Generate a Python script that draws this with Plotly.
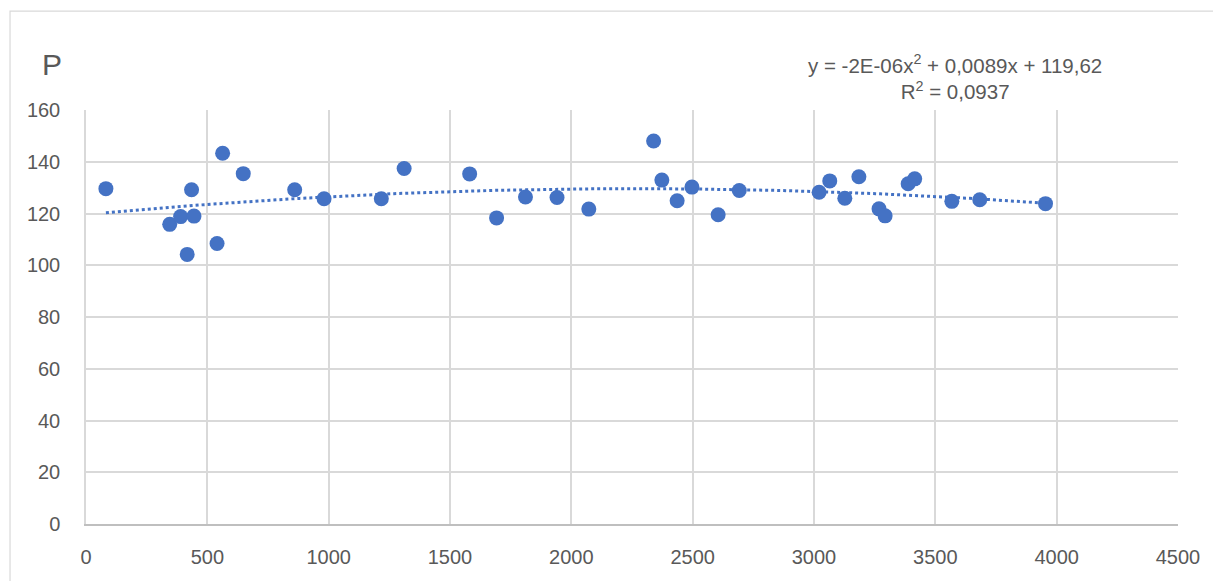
import numpy as np
import plotly.graph_objects as go

# Data
x_vals = [82, 345, 390, 417, 435, 445, 540, 563, 648, 860, 981, 1217, 1311, 1581,
          1692, 1811, 1941, 2072, 2339, 2373, 2436, 2497, 2605, 2692, 3021, 3065,
          3127, 3185, 3268, 3293, 3388, 3415, 3568, 3683, 3954]
y_vals = [129.6, 115.8, 118.8, 104.2, 129.2, 119.0, 108.4, 143.3, 135.4, 129.2, 125.7,
          125.7, 137.4, 135.3, 118.3, 126.4, 126.2, 121.7, 148.0, 132.9, 124.9, 130.2,
          119.5, 128.9, 128.2, 132.6, 125.9, 134.2, 121.8, 119.1, 131.5, 133.4, 124.7,
          125.3, 123.8]

x_ticks = [0, 500, 1000, 1500, 2000, 2500, 3000, 3500, 4000, 4500]
y_ticks = [0, 20, 40, 60, 80, 100, 120, 140, 160]

eq_text = "y = -2E-06x<sup>2</sup> + 0,0089x + 119,62<br>R<sup>2</sup> = 0,0937"
y_title = "P"

OFF = 8  # page body margin
W, H = 1221 - OFF, 581 - OFF
L, R, T, B = 86 - OFF, 1178.5 - OFF, 110 - OFF, 524.5 - OFF

blue = "#4472C4"
txt = "#595959"
grid = "#D9D9D9"
font = "Liberation Sans"

# polynomial (order 2) trendline from the data
coef = np.polyfit(x_vals, y_vals, 2)
tx = np.linspace(min(x_vals), max(x_vals), 200)
ty = np.polyval(coef, tx)

fig = go.Figure()
fig.add_trace(go.Scatter(x=tx, y=ty, mode="lines",
                         line=dict(color=blue, width=3, dash="dot"),
                         hoverinfo="skip", showlegend=False))
fig.add_trace(go.Scatter(x=x_vals, y=y_vals, mode="markers",
                         marker=dict(color=blue, size=15, line=dict(width=0)),
                         showlegend=False))

pw = R - L
ph = B - T

def px_to_paper_x(p):
    return (p - OFF - L) / pw

def px_to_paper_y(p):
    return (B - (p - OFF)) / ph

fig.update_layout(
    width=W, height=H,
    margin=dict(l=L, r=W - R, t=T, b=H - B, pad=0),
    paper_bgcolor="white", plot_bgcolor="white",
    font=dict(family=font, color=txt, size=20),
    xaxis=dict(range=[0, 4500], tickvals=x_ticks, showgrid=True, gridcolor=grid,
               gridwidth=1.5, zeroline=False, showline=True, linecolor="#BFBFBF",
               linewidth=1.5, ticks="", ticklabelstandoff=14,
               tickfont=dict(size=20, color=txt, family=font)),
    yaxis=dict(range=[0, 160], tickvals=y_ticks, showgrid=True, gridcolor=grid,
               gridwidth=1.5, zeroline=False, showline=True, linecolor=grid,
               linewidth=1.5, ticks="", ticklabelstandoff=20,
               tickfont=dict(size=20, color=txt, family=font)),
    shapes=[dict(type="rect", xref="paper", yref="paper",
                 x0=px_to_paper_x(10), x1=px_to_paper_x(1240),
                 y0=px_to_paper_y(600), y1=px_to_paper_y(11),
                 line=dict(color="#D9D9D9", width=1.2), fillcolor="rgba(0,0,0,0)",
                 layer="below")],
    annotations=[
        dict(text=y_title, xref="paper", yref="paper",
             x=px_to_paper_x(52), y=px_to_paper_y(64), showarrow=False,
             xanchor="center", yanchor="middle",
             font=dict(size=30, color=txt, family=font)),
        dict(text=eq_text, xref="paper", yref="paper",
             x=px_to_paper_x(955), y=px_to_paper_y(77), showarrow=False,
             xanchor="center", yanchor="middle", align="center",
             font=dict(size=20.5, color=txt, family=font)),
    ],
)

fig.write_html("out.html")
